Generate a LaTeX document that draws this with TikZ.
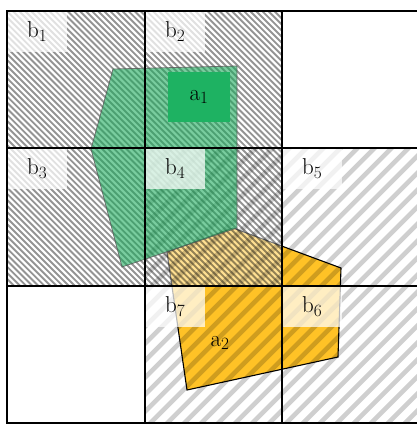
\documentclass[tikz,border=0pt]{standalone}
\definecolor{agreen}{RGB}{25,170,90}
\definecolor{lblgreen}{RGB}{30,178,98}
\definecolor{aorange}{RGB}{255,194,38}
\begin{document}
\begin{tikzpicture}[x=1bp,y=-1bp,
  finestripe/.style={draw=black,draw opacity=0.42,line width=1.9bp},
  widestripe/.style={draw=black,draw opacity=0.19,line width=4.6bp},
  whiteveil/.style={fill=white,fill opacity=0.5},
  gridline/.style={draw=black,line width=2bp},
  apoly1/.style={fill=agreen,fill opacity=0.58,draw=black!65,draw opacity=0.8,line width=0.8bp},
  apoly2/.style={fill=aorange,draw=black,line width=1.1bp},
  blabel/.style={anchor=north west,fill=white,fill opacity=0.72,text opacity=1,minimum width=60bp,minimum height=41bp,inner sep=0pt,font=\fontsize{23}{27}\selectfont},
  alabel/.style={inner sep=0pt,font=\fontsize{23}{27}\selectfont}
]
\useasboundingbox (0,0) rectangle (417,424);
\clip (0,0) rectangle (417,424);
\fill[white] (0,0) rectangle (417,424);
% polygon a2 (below the cells)
\path[apoly2] (167,252) -- (233,228) -- (341,268) -- (338,357) -- (187,390) -- cycle;
% fine-hatched cells b1..b4
\fill[whiteveil] (7,11) rectangle (282,286);
\begin{scope}
  \clip (7,11) rectangle (282,286);
  \foreach \c in {-290,-283.92,...,285}{
    \draw[finestripe] (\c,0) -- ++(440,440);
  }
\end{scope}
% wide-hatched cells b4..b7
\begin{scope}
  \clip (145,148) rectangle (420,424);
  \foreach \c in {285,301.97,...,860}{
    \draw[widestripe] (\c,0) -- ++(-440,440);
  }
\end{scope}
% polygon a1
\path[apoly1] (113,69) -- (237,66) -- (237,228) -- (122,267) -- (91,149) -- cycle;
% a labels
\node[alabel,fill=lblgreen,minimum width=62bp,minimum height=50bp] (a1) at (199,97) {a$_1$};
\node[alabel] (a2) at (220,343) {a$_2$};
% b labels
\node[blabel] (b1) at (7,11) {b$_1$};
\node[blabel] (b2) at (145,11) {b$_2$};
\node[blabel] (b3) at (7,148) {b$_3$};
\node[blabel] (b4) at (145,148) {b$_4$};
\node[blabel] (b5) at (282,148) {b$_5$};
\node[blabel] (b6) at (282,286) {b$_6$};
\node[blabel] (b7) at (145,286) {b$_7$};
% grid
\draw[gridline] (7,11) rectangle (420,423);
\draw[gridline] (145,11) -- (145,423);
\draw[gridline] (282,11) -- (282,423);
\draw[gridline] (7,148) -- (420,148);
\draw[gridline] (7,286) -- (420,286);
\end{tikzpicture}
\end{document}
